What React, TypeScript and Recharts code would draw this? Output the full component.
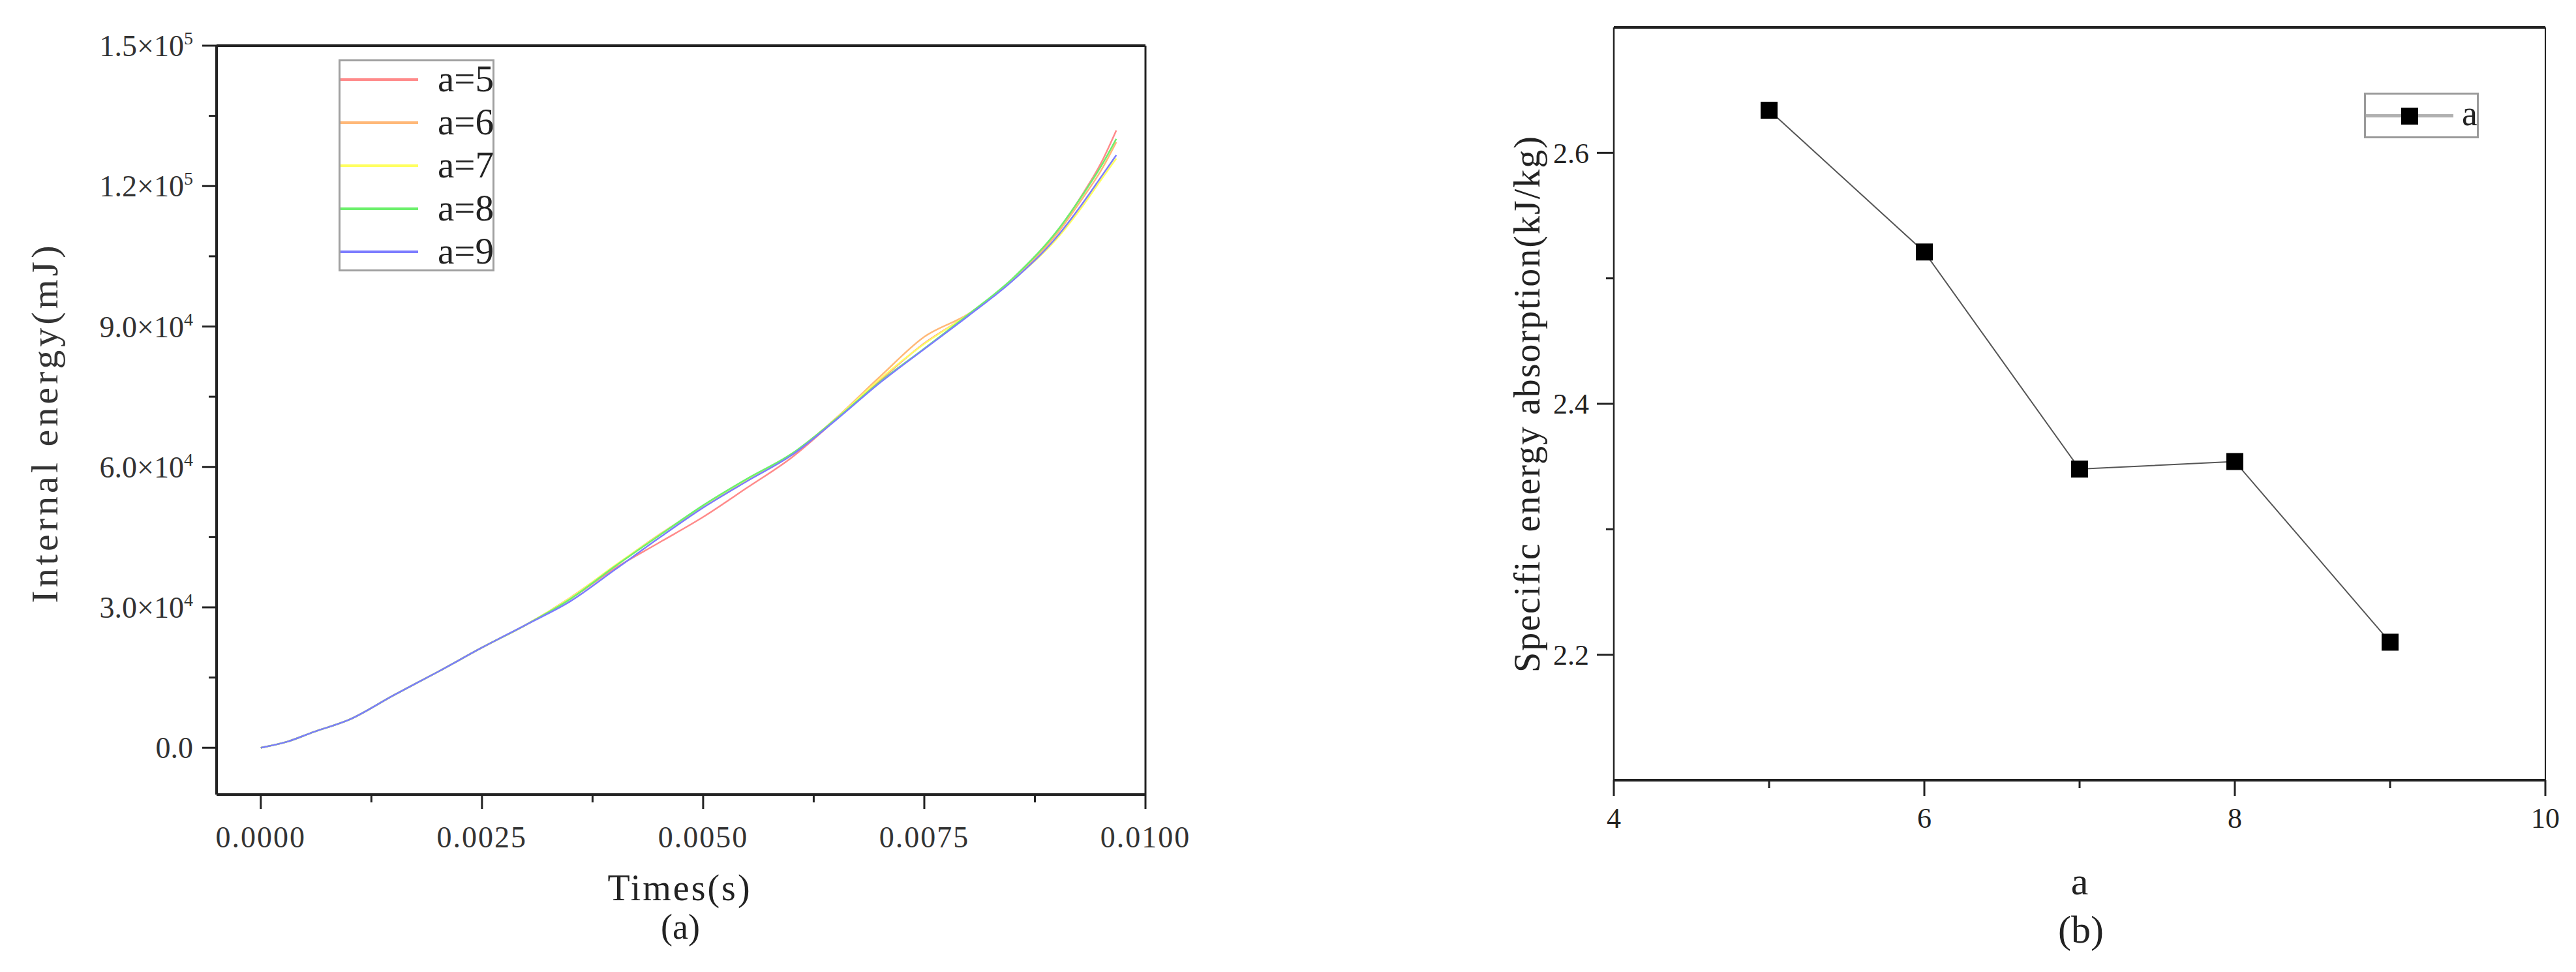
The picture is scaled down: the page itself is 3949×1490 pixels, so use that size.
import {
  Label,
  Legend,
  Line,
  LineChart,
  ReferenceLine,
  XAxis,
  YAxis,
} from 'recharts';

// (a) internal energy vs time
const times = [
  0, 0.0003, 0.0006, 0.001, 0.0015, 0.002, 0.0025, 0.003, 0.0035, 0.004, 0.0045, 0.005,
  0.0055, 0.006, 0.0065, 0.007, 0.0075, 0.008, 0.0085, 0.009, 0.0093, 0.0095, 0.00967,
];
const energyA5 = [
  0, 1300, 3400, 6000, 11200, 16200, 21400, 26300, 31800, 38300, 43800, 49300,
  55600, 62000, 70100, 78500, 86400, 92600, 100200, 110300, 118600, 125000, 131900,
];
const energyA6 = [
  0, 1300, 3400, 6000, 11200, 16200, 21400, 26300, 32100, 38800, 45500, 51400,
  57100, 62600, 70400, 79300, 87800, 92700, 100100, 109800, 117700, 123400, 129400,
];
const energyA7 = [
  0, 1300, 3400, 6000, 11200, 16200, 21400, 26300, 32000, 38900, 45400, 51600,
  57300, 62700, 70300, 78800, 86300, 92600, 99900, 108800, 116000, 121400, 125900,
];
const energyA8 = [
  0, 1300, 3400, 6000, 11200, 16200, 21400, 26300, 31800, 38700, 45300, 51800,
  57500, 62800, 70200, 78200, 85300, 92600, 100300, 110400, 118400, 124300, 130100,
];
const energyA9 = [
  0, 1300, 3400, 6000, 11200, 16200, 21400, 26300, 31300, 38000, 44800, 51300,
  57000, 62500, 70000, 78000, 85200, 92300, 99800, 109200, 116600, 122000, 126600,
];
const timeTicks = [0, 0.00125, 0.0025, 0.00375, 0.005, 0.00625, 0.0075, 0.00875, 0.01];
const timeMajor = [0, 0.0025, 0.005, 0.0075, 0.01];
const energyTicks = [0, 15000, 30000, 45000, 60000, 75000, 90000, 105000, 120000, 135000, 150000];

// (b) specific energy absorption vs a
const aValues = [5, 6, 7, 8, 9];
const sea = [2.634, 2.521, 2.348, 2.354, 2.21];
const aTicks = [4, 5, 6, 7, 8, 9, 10];
const seaTicks = [2.2, 2.3, 2.4, 2.5, 2.6];

const series = [
  { key: 'a5', name: 'a=5', color: '#FF8A8A', values: energyA5 },
  { key: 'a6', name: 'a=6', color: '#FFB878', values: energyA6 },
  { key: 'a7', name: 'a=7', color: '#FFFF60', values: energyA7 },
  { key: 'a8', name: 'a=8', color: '#6CF06C', values: energyA8 },
  { key: 'a9', name: 'a=9', color: '#7C7CFF', values: energyA9 },
];

const energyData = times.map((t, i) => {
  const row: Record<string, number> = { t };
  series.forEach((s) => (row[s.key] = s.values[i]));
  return row;
});
const seaData = aValues.map((a, i) => ({ a, sea: sea[i] }));

const SERIF = '"Liberation Serif", "DejaVu Serif", serif';
const AXIS = '#222';

const near = (list: number[], v: number) => list.some((m) => Math.abs(m - v) < 1e-9);

function EnergyTick({ x, y, payload }: any) {
  const v = payload.value;
  const major = v % 30000 === 0;
  let label: any = null;
  if (major) {
    if (v === 0) {
      label = '0.0';
    } else {
      const exp = Math.floor(Math.log10(v));
      const mant = (v / Math.pow(10, exp)).toFixed(1);
      label = (
        <>
          <tspan>{`${mant}×10`}</tspan>
          <tspan dy={-18} fontSize={28}>{exp}</tspan>
        </>
      );
    }
  }
  return (
    <g>
      <line x1={x} x2={x - (major ? 22 : 12)} y1={y} y2={y} stroke={AXIS} strokeWidth={3} />
      {major && (
        <text x={x - 36} y={y} dy="0.35em" textAnchor="end" fontSize={46} fontFamily={SERIF} fill="#333">
          {label}
        </text>
      )}
    </g>
  );
}

function TimeTick({ x, y, payload }: any) {
  const v = payload.value;
  const major = near(timeMajor, v);
  return (
    <g>
      <line x1={x} x2={x} y1={y} y2={y + (major ? 22 : 12)} stroke={AXIS} strokeWidth={3} />
      {major && (
        <text x={x} y={y + 65} dy="0.35em" textAnchor="middle" fontSize={46} fontFamily={SERIF} fill="#333" letterSpacing={2}>
          {v.toFixed(4)}
        </text>
      )}
    </g>
  );
}

function SeaTick({ x, y, payload }: any) {
  const v = payload.value;
  const major = near([2.2, 2.4, 2.6], v);
  return (
    <g>
      <line x1={x} x2={x - (major ? 26 : 12)} y1={y} y2={y} stroke={AXIS} strokeWidth={3} />
      {major && (
        <text x={x - 38} y={y} dy="0.35em" textAnchor="end" fontSize={44} fontFamily={SERIF} fill="#222">
          {v.toFixed(1)}
        </text>
      )}
    </g>
  );
}

function ATick({ x, y, payload }: any) {
  const v = payload.value;
  const major = v % 2 === 0;
  return (
    <g>
      <line x1={x} x2={x} y1={y} y2={y + (major ? 24 : 12)} stroke={AXIS} strokeWidth={3} />
      {major && (
        <text x={x} y={y + 58} dy="0.35em" textAnchor="middle" fontSize={44} fontFamily={SERIF} fill="#222">
          {v}
        </text>
      )}
    </g>
  );
}

function EnergyLegend({ payload }: any) {
  return (
    <div
      style={{
        position: 'relative',
        width: 239,
        height: 325,
        boxSizing: 'border-box',
        border: '3px solid #a0a0a0',
        background: '#fff',
      }}
    >
      {(payload || []).map((p: any, i: number) => (
        <div key={p.value} style={{ position: 'absolute', left: 0, top: 28 + i * 66, width: 239, height: 0 }}>
          <div style={{ position: 'absolute', left: 0, top: -2, width: 119, height: 4, background: p.color }} />
          <div
            style={{
              position: 'absolute',
              left: 149,
              top: -36,
              fontFamily: SERIF,
              fontSize: 57,
              lineHeight: '70px',
              color: '#222',
              whiteSpace: 'nowrap',
            }}
          >
            {p.value}
          </div>
        </div>
      ))}
    </div>
  );
}

function SeaLegend() {
  return (
    <div
      style={{
        position: 'relative',
        width: 176,
        height: 70,
        boxSizing: 'border-box',
        border: '3px solid #9a9a9a',
        background: '#fff',
      }}
    >
      <div style={{ position: 'absolute', left: 0, top: 30, width: 134, height: 5, background: '#b0b0b0' }} />
      <div style={{ position: 'absolute', left: 54, top: 20, width: 26, height: 26, background: '#000' }} />
      <div
        style={{
          position: 'absolute',
          left: 147,
          top: -6,
          fontFamily: SERIF,
          fontSize: 54,
          lineHeight: '70px',
          color: '#222',
        }}
      >
        a
      </div>
    </div>
  );
}

const squareDot = (p: any) => (
  <rect key={`sq-${p.index}`} x={p.cx - 13} y={p.cy - 13} width={26} height={26} fill="#000" />
);

export default function App() {
  return (
    <div
      style={{
        position: 'relative',
        width: 3949,
        height: 1490,
        marginLeft: -8,
        marginTop: -8,
        background: '#fff',
        overflow: 'hidden',
      }}
    >
      <div style={{ position: 'absolute', left: 0, top: 0 }}>
        <LineChart width={1920} height={1490} data={energyData} margin={{ top: 70, right: 164, bottom: 72, left: 82 }}>
          <XAxis
            dataKey="t"
            type="number"
            domain={[-0.0005, 0.01]}
            ticks={timeTicks}
            interval={0}
            allowDataOverflow
            height={200}
            tickSize={0}
            tickMargin={0}
            tickLine={false}
            tick={<TimeTick />}
            axisLine={{ stroke: AXIS, strokeWidth: 4 }}
          >
            <Label
              content={() => (
                <g fontFamily={SERIF} fill="#222" textAnchor="middle">
                  <text x={1042} y={1360} dy="0.35em" fontSize={56} letterSpacing={3}>Times(s)</text>
                  <text x={1043} y={1420} dy="0.35em" fontSize={54}>(a)</text>
                </g>
              )}
            />
          </XAxis>
          <YAxis
            type="number"
            domain={[-10000, 150000]}
            ticks={energyTicks}
            interval={0}
            allowDataOverflow
            width={250}
            tickSize={0}
            tickMargin={0}
            tickLine={false}
            tick={<EnergyTick />}
            axisLine={{ stroke: AXIS, strokeWidth: 4 }}
          >
            <Label
              content={() => (
                <text
                  x={68}
                  y={648}
                  dy="0.35em"
                  transform="rotate(-90 68 648)"
                  textAnchor="middle"
                  fontFamily={SERIF}
                  fontSize={58}
                  letterSpacing={5}
                  fill="#333"
                >
                  Internal energy(mJ)
                </text>
              )}
            />
          </YAxis>
          <ReferenceLine y={150000} stroke={AXIS} strokeWidth={4} />
          <ReferenceLine x={0.01} stroke={AXIS} strokeWidth={3} />
          <Legend
            layout="horizontal"
            verticalAlign="middle"
            align="center"
            content={<EnergyLegend />}
            wrapperStyle={{ left: 519, top: 91, width: 239, height: 325 }}
          />
          {series.map((s) => (
            <Line
              key={s.key}
              type="monotone"
              dataKey={s.key}
              name={s.name}
              stroke={s.color}
              strokeWidth={2.5}
              dot={false}
              activeDot={false}
              isAnimationActive={false}
            />
          ))}
        </LineChart>
      </div>

      <div style={{ position: 'absolute', left: 2000, top: 0 }}>
        <LineChart width={1949} height={1490} data={seaData} margin={{ top: 42, right: 47, bottom: 94, left: 224 }}>
          <XAxis
            dataKey="a"
            type="number"
            domain={[4, 10]}
            ticks={aTicks}
            interval={0}
            allowDataOverflow
            height={200}
            tickSize={0}
            tickMargin={0}
            tickLine={false}
            tick={<ATick />}
            axisLine={{ stroke: AXIS, strokeWidth: 4 }}
          >
            <Label
              content={() => (
                <g fontFamily={SERIF} fill="#222" textAnchor="middle">
                  <text x={1188} y={1350} dy="0.35em" fontSize={60}>a</text>
                  <text x={1190} y={1424} dy="0.35em" fontSize={60}>(b)</text>
                </g>
              )}
            />
          </XAxis>
          <YAxis
            type="number"
            domain={[2.1, 2.7]}
            ticks={seaTicks}
            interval={0}
            allowDataOverflow
            width={250}
            tickSize={0}
            tickMargin={0}
            tickLine={false}
            tick={<SeaTick />}
            axisLine={{ stroke: AXIS, strokeWidth: 2.5 }}
          >
            <Label
              content={() => (
                <text
                  x={340}
                  y={619}
                  dy="0.35em"
                  transform="rotate(-90 340 619)"
                  textAnchor="middle"
                  fontFamily={SERIF}
                  fontSize={56}
                  letterSpacing={2}
                  fill="#222"
                >
                  Specific energy absorption(kJ/kg)
                </text>
              )}
            />
          </YAxis>
          <ReferenceLine y={2.7} stroke={AXIS} strokeWidth={4} />
          <ReferenceLine x={10} stroke={AXIS} strokeWidth={2} />
          <Legend
            layout="horizontal"
            verticalAlign="middle"
            align="center"
            content={<SeaLegend />}
            wrapperStyle={{ left: 1624, top: 142, width: 176, height: 70 }}
          />
          <Line
            type="linear"
            dataKey="sea"
            name="a"
            stroke="#555"
            strokeWidth={2}
            dot={squareDot}
            activeDot={false}
            isAnimationActive={false}
          />
        </LineChart>
      </div>
    </div>
  );
}
